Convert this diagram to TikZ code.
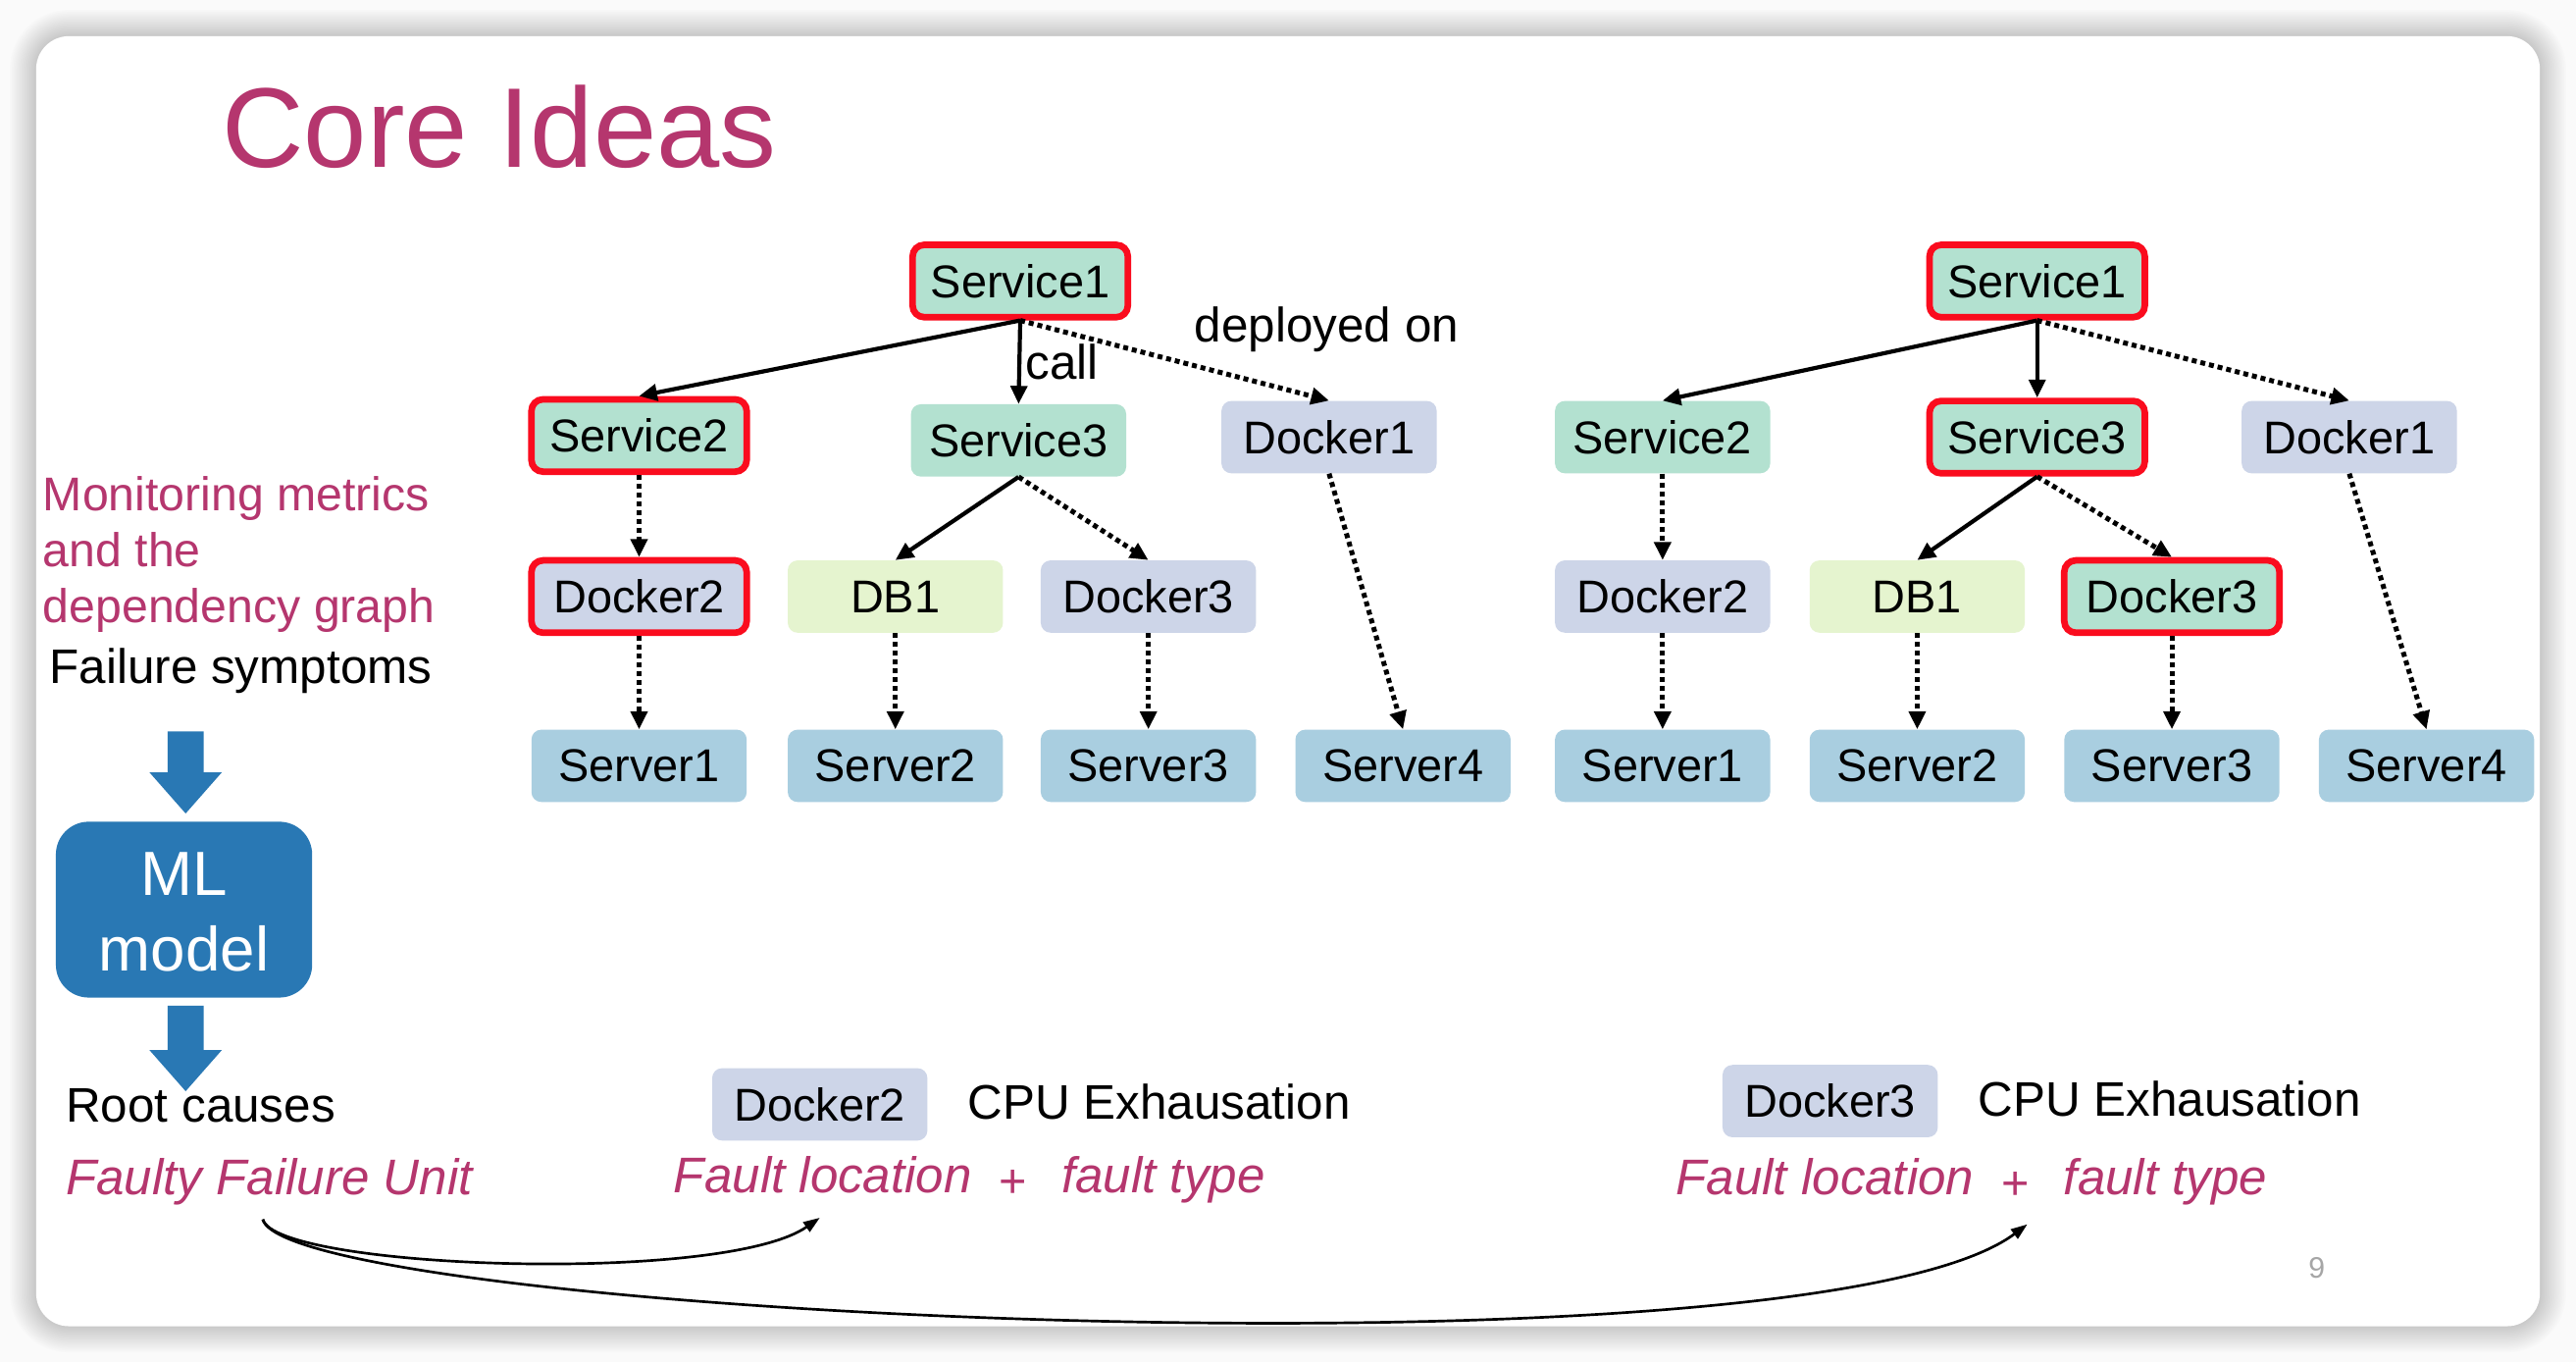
\documentclass[tikz,border=0pt]{standalone}
\usepackage{fontspec}
\setmainfont{Liberation Sans}
\usetikzlibrary{arrows.meta}
\definecolor{mag}{RGB}{181,54,110}
\definecolor{svcg}{RGB}{179,225,208}
\definecolor{dockl}{RGB}{205,213,232}
\definecolor{dbg}{RGB}{229,244,207}
\definecolor{srvb}{RGB}{169,206,224}
\definecolor{hotred}{RGB}{250,12,30}
\definecolor{mlblue}{RGB}{41,120,180}
\begin{document}
\begin{tikzpicture}[x=1pt,y=-1pt,
  box/.style={rounded corners=6pt, minimum width=131pt, minimum height=44pt, inner sep=0pt, font=\fontsize{28}{30}\selectfont},
  svc/.style={box, fill=svcg},
  dock/.style={box, fill=dockl},
  dbx/.style={box, fill=dbg},
  srv/.style={box, fill=srvb},
  hot/.style={draw=hotred, line width=4pt, rounded corners=7pt},
  callarr/.style={-{Triangle[length=11pt,width=10pt]}, line width=2.5pt},
  deparr/.style={-{Triangle[length=11pt,width=10pt]}, line width=3pt, dash pattern=on 3pt off 2.4pt},
  txt/.style={font=\fontsize{29.5}{34}\selectfont, inner sep=0pt, anchor=base west},
  itx/.style={txt, font=\fontsize{30.5}{34}\selectfont\itshape, text=mag},
  mtx/.style={txt, font=\fontsize{28.8}{34}\selectfont, text=mag},
]
\useasboundingbox (0,0) rectangle (1568,829);
% background and slide
\fill[gray!4] (0,0) rectangle (1568,829);
\foreach \r in {1,...,16}{
  \fill[black, opacity=0.011, rounded corners={20+\r}] ({22-\r},{22-\r}) rectangle ({1546+\r},{807+\r});
}
\fill[white, rounded corners=20pt] (22,22) rectangle (1546,807);

% title
\node[anchor=base west, inner sep=0pt, text=mag, font=\fontsize{69}{80}\selectfont] (title) at (135,102) {Core Ideas};

% left column
\node[mtx] (m1) at (26,311) {Monitoring metrics};
\node[mtx] (m2) at (26,345) {and the};
\node[mtx] (m3) at (26,379) {dependency graph};
\node[txt] (fs) at (30,416) {Failure symptoms};
\node[fill=mlblue, rounded corners=20pt, minimum width=156pt, minimum height=107pt, inner sep=0pt] (ml) at (112,553.5) {};
\node[anchor=base, inner sep=0pt, text=white, font=\fontsize{38}{44}\selectfont] (mlt1) at (112,545) {ML};
\node[anchor=base, inner sep=0pt, text=white, font=\fontsize{38}{44}\selectfont] (mlt2) at (112,591) {model};
\fill[mlblue] (102,445) -- (124,445) -- (124,470) -- (135,470) -- (113,495) -- (91,470) -- (102,470) -- cycle;
\fill[mlblue] (102,612) -- (124,612) -- (124,639) -- (135,639) -- (113,664) -- (91,639) -- (102,639) -- cycle;
\node[txt] (rc) at (40,683) {Root causes};
\node[itx] (ffu) at (40,727) {Faulty Failure Unit};

% left graph
\node[svc,hot] (a1) at (621,171) {Service1};
\node[svc,hot] (a2) at (389,265) {Service2};
\node[svc] (a3) at (620,268) {Service3};
\node[dock] (a4) at (809,266) {Docker1};
\node[dock,hot] (a5) at (389,363) {Docker2};
\node[dbx] (a6) at (545,363) {DB1};
\node[dock] (a7) at (699,363) {Docker3};
\node[srv] (a8) at (389,466) {Server1};
\node[srv] (a9) at (545,466) {Server2};
\node[srv] (a10) at (699,466) {Server3};
\node[srv] (a11) at (854,466) {Server4};
\draw[callarr] (a1.south) -- (a2.north);
\draw[callarr] (a1.south) -- (a3.north);
\draw[deparr] (a1.south) -- (a4.north);
\draw[deparr] (a2.south) -- (a5.north);
\draw[callarr] (a3.south) -- (a6.north);
\draw[deparr] (a3.south) -- (a7.north);
\draw[deparr] (a4.south) -- (a11.north);
\draw[deparr] (a5.south) -- (a8.north);
\draw[deparr] (a6.south) -- (a9.north);
\draw[deparr] (a7.south) -- (a10.north);
\node[txt] (lcall) at (624,231) {call};
\node[txt] (ldep) at (727,208) {deployed on};

% right graph
\node[svc,hot] (b1) at (1240,171) {Service1};
\node[svc] (b2) at (1012,266) {Service2};
\node[svc,hot] (b3) at (1240,266) {Service3};
\node[dock] (b4) at (1430,266) {Docker1};
\node[dock] (b5) at (1012,363) {Docker2};
\node[dbx] (b6) at (1167,363) {DB1};
\node[svc,hot] (b7) at (1322,363) {Docker3};
\node[srv] (b8) at (1012,466) {Server1};
\node[srv] (b9) at (1167,466) {Server2};
\node[srv] (b10) at (1322,466) {Server3};
\node[srv] (b11) at (1477,466) {Server4};
\draw[callarr] (b1.south) -- (b2.north);
\draw[callarr] (b1.south) -- (b3.north);
\draw[deparr] (b1.south) -- (b4.north);
\draw[deparr] (b2.south) -- (b5.north);
\draw[callarr] (b3.south) -- (b6.north);
\draw[deparr] (b3.south) -- (b7.north);
\draw[deparr] (b4.south) -- (b11.north);
\draw[deparr] (b5.south) -- (b8.north);
\draw[deparr] (b6.south) -- (b9.north);
\draw[deparr] (b7.south) -- (b10.north);

% bottom results
\node[dock] (r1) at (499,672) {Docker2};
\node[txt] (c1) at (589,681) {CPU Exhausation};
\node[itx] (f1) at (410,726) {Fault location};
\node[itx, font=\fontsize{29}{34}\selectfont] (p1) at (608,729) {+};
\node[itx] (t1) at (646,726) {fault type};
\node[dock] (r2) at (1114,670) {Docker3};
\node[txt] (c2) at (1204,679) {CPU Exhausation};
\node[itx] (f2) at (1020,727) {Fault location};
\node[itx, font=\fontsize{29}{34}\selectfont] (p2) at (1218,730) {+};
\node[itx] (t2) at (1256,727) {fault type};

\node[anchor=base west, inner sep=0pt, text=gray!70, font=\fontsize{18}{20}\selectfont] (pg) at (1405,778) {9};

% curved arrows
\coordinate (src) at (160,742);
\coordinate (e1) at (499,741);
\coordinate (e2) at (1234,745);
\draw[-{Triangle[length=10pt,width=7pt]}, line width=1.6pt] (src) .. controls (168,772) and (440,782) .. (e1);
\draw[-{Triangle[length=10pt,width=7pt]}, line width=1.6pt] (src) .. controls (175,800) and (1100,845) .. (e2);
\end{tikzpicture}
\end{document}
